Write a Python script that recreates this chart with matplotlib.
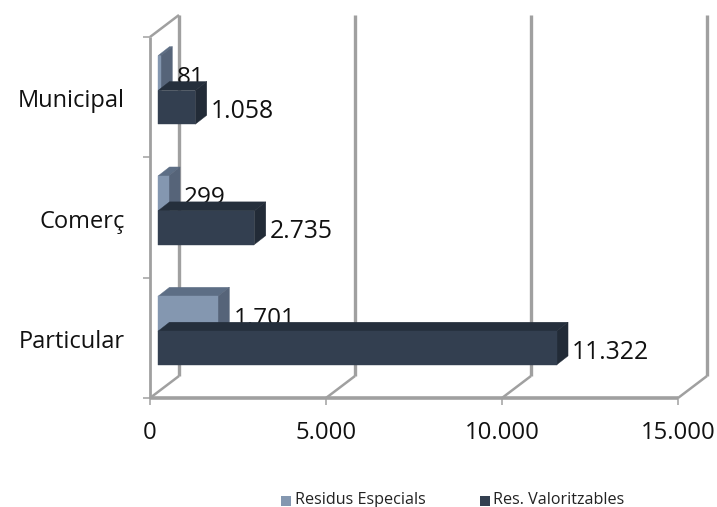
import matplotlib
matplotlib.use("Agg")
import matplotlib.pyplot as plt
from matplotlib.patches import Polygon

plt.rcParams['font.family'] = ['Open Sans', 'DejaVu Sans']

categories = ['Particular', 'Comerç', 'Municipal']
especials = [1701, 299, 81]
valoritzables = [11322, 2735, 1058]
especials_txt = ['1.701', '299', '81']
valoritzables_txt = ['11.322', '2.735', '1.058']
xticks = [0, 5000, 10000, 15000]
xticklabels = ['0', '5.000', '10.000', '15.000']

W, H = 717, 507
# plot box of the front face, in pixels
X0, X1, Y0, Y1 = 150, 678, 398, 37
DX, DY = 29, 22  # wall depth
GREY = '#a0a0a0'

fig = plt.figure(figsize=(W / 100, H / 100), dpi=100)
ax = fig.add_axes([X0 / W, 1 - Y0 / H, (X1 - X0) / W, (Y0 - Y1) / H])
ax.set_xlim(0, 15000)
ax.set_ylim(0, 3)
ax.axis('off')

px = 15000 / (X1 - X0)
py = 3 / (Y0 - Y1)


def wall_line(xs, ys, lw=2.4):
    ax.plot(xs, ys, color=GREY, lw=lw, clip_on=False, solid_capstyle='butt', zorder=1)


# back wall and floor
for v in xticks:
    back = v + DX * px
    wall_line([back, back], [DY * py, 3 + DY * py])
    wall_line([v, back], [0, DY * py], lw=1.8)
    wall_line([v, v], [0, -7 * py], lw=1.1)
wall_line([0, 15000], [0, 0], lw=2.6)
wall_line([-0.5 * px, -0.5 * px], [0, 3], lw=2)
wall_line([0, DX * px], [3, 3 + DY * py], lw=1.8)
for i in range(4):
    wall_line([-7 * px, 0], [i, i], lw=1.1)


def bar3d(value, y, h, front, top, side, z):
    x0 = 8 * px
    x1 = x0 + value
    dx = 11.5 * px
    dy = 9 * py
    ax.add_patch(Polygon([(x0, y + h), (x0 + dx, y + h + dy), (x1 + dx, y + h + dy), (x1, y + h)],
                         fc=top, ec=top, lw=0.3, clip_on=False, zorder=z))
    ax.add_patch(Polygon([(x1, y), (x1 + dx, y + dy), (x1 + dx, y + h + dy), (x1, y + h)],
                         fc=side, ec=side, lw=0.3, clip_on=False, zorder=z))
    ax.add_patch(Polygon([(x0, y), (x1, y), (x1, y + h), (x0, y + h)],
                         fc=front, ec=front, lw=0.3, clip_on=False, zorder=z))
    return x1 + dx


for i, cat in enumerate(categories):
    base = i + 0.275
    h = 0.28
    # light series sits behind the dark one, its label too
    end = bar3d(especials[i], base + h, h + 0.01, '#8497b0', '#5d6e85', '#566479', 3)
    ax.text(end + 4 * px, base + h + 0.105, especials_txt[i], fontsize=17.5, color='#111111',
            va='center', ha='left', zorder=3.5)
    end = bar3d(valoritzables[i], base, h, '#333f50', '#252f3c', '#222b37', 4)
    ax.text(end + 4 * px, base + h / 2 - 0.035, valoritzables_txt[i], fontsize=17.8, color='#111111',
            va='center', ha='left', zorder=6)
    ax.text(-25 * px, i + 0.465, cat, fontsize=17, color='#111111', va='center', ha='right')

for v, lab in zip(xticks, xticklabels):
    ax.text(v, -35 * py, lab, fontsize=17.2, color='#111111', va='center', ha='center')

# legend
fig.patches.append(plt.Rectangle((281 / W, 1 - 506 / H), 10 / W, 10 / H, transform=fig.transFigure, fc='#8497b0', ec='none'))
fig.patches.append(plt.Rectangle((480 / W, 1 - 506 / H), 10 / W, 10 / H, transform=fig.transFigure, fc='#333f50', ec='none'))
fig.text(295 / W, 1 - 500 / H, 'Residus Especials', fontsize=11.6, color='#222222', va='center', ha='left')
fig.text(493 / W, 1 - 500 / H, 'Res. Valoritzables', fontsize=11.6, color='#222222', va='center', ha='left')

fig.savefig('out.png', dpi=100)
